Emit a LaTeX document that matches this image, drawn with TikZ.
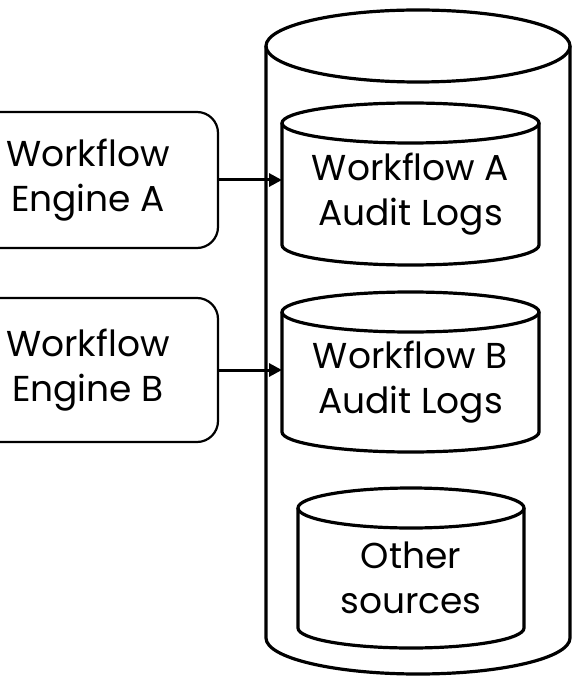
\documentclass[tikz,border=0pt]{standalone}
\usepackage{fontspec}
\setmainfont{Poppins}
\usetikzlibrary{arrows.meta,calc}
\tikzset{
	motor/.style={
		draw=black,
		line width=2.2pt,
		rounded corners=21pt,
		minimum width=260pt,
		align=center,
		inner sep=0pt,
		font=\fontsize{36}{45}\selectfont
	},
	almacen/.style={
		inner sep=0pt,
		outer sep=0pt,
		align=center,
		font=\fontsize{36}{45}\selectfont
	},
	borde/.style={
		draw=black,
		line width=3.2pt
	},
	flecha/.style={
		-{Triangle[length=13pt,width=13pt]},
		line width=3pt
	}
}
% cilindro alrededor del cuerpo de un nodo: nodo, radio x, radio y
\newcommand{\Cilindro}[3]{%
	\draw[borde] ([yshift=#3]#1.north west) -- (#1.south west)
		arc[start angle=180, end angle=360, x radius=#2, y radius=#3]
		-- ([yshift=#3]#1.north east);
	\draw[borde] ([yshift=#3]#1.north) ellipse[x radius=#2, y radius=#3];
}

\begin{document}
\begin{tikzpicture}[x=1pt, y=-1pt]
	\useasboundingbox (0,0) rectangle (572,676);
	% repositorio exterior
	\node[almacen, minimum width=304pt, minimum height=556pt] (repositorio) at (418,360) {};
	\Cilindro{repositorio}{152pt}{36pt}
	% bitacoras
	\node[almacen, minimum width=257pt, minimum height=102pt] (bitacoraA) at (410.5,194) {Workflow A\\Audit Logs};
	\node[almacen, minimum width=257pt, minimum height=100pt] (bitacoraB) at (410.5,382) {Workflow B\\Audit Logs};
	\node[almacen, minimum width=226pt, minimum height=100pt] (otras) at (411,578) {Other\\sources};
	\Cilindro{bitacoraA}{128.5pt}{20pt}
	\Cilindro{bitacoraB}{128.5pt}{20pt}
	\Cilindro{otras}{113pt}{20pt}
	% motores
	\node[motor, minimum height=136pt] (motorA) at (88,180) {Workflow\\Engine A};
	\node[motor, minimum height=144pt] (motorB) at (88,370) {Workflow\\Engine B};
	\draw[flecha] (motorA.east) -- (motorA.east -| bitacoraA.west);
	\draw[flecha] (motorB.east) -- (motorB.east -| bitacoraB.west);
\end{tikzpicture}
\end{document}
